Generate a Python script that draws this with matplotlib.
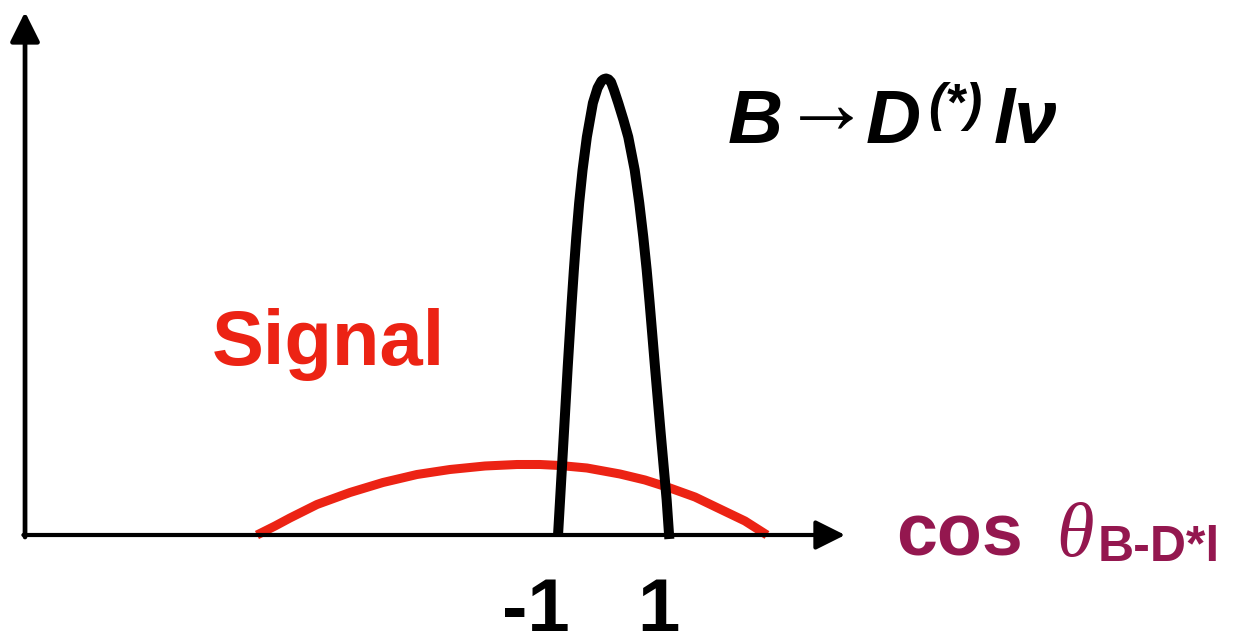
import matplotlib
matplotlib.use("Agg")
import matplotlib.pyplot as plt

# schematic shapes (x in cos theta units, y arbitrary)
bkg_x = [-1.000, -0.962, -0.892, -0.823, -0.750, -0.711, -0.667, -0.615, -0.553,
         -0.475, -0.365, -0.280, -0.210, -0.170, -0.125, -0.080, -0.036, 0.018,
         0.096, 0.191, 0.278, 0.395, 0.478, 0.551, 0.613, 0.665, 0.764, 0.867,
         0.976, 1.025]
bkg_y = [-0.01, 0.35, 1.02, 1.68, 2.33, 2.65, 2.98, 3.32, 3.65,
         3.98, 4.32, 4.47, 4.54, 4.558, 4.565, 4.556, 4.53, 4.45,
         4.32, 4.15, 3.98, 3.65, 3.32, 2.98, 2.65, 2.33, 1.68, 1.02,
         0.35, -0.04]

sig_x = [-6.473, -6.145, -5.873, -5.382, -4.782, -4.182, -3.564, -2.964, -2.327,
         -1.745, -1.327, -0.964, -0.473, 0.127, 0.582, 1.036, 1.491, 1.945,
         2.400, 2.800]
sig_y = [0.00, 0.09, 0.17, 0.305, 0.425, 0.525, 0.605, 0.655, 0.69,
         0.705, 0.705, 0.695, 0.67, 0.61, 0.55, 0.47, 0.38, 0.26,
         0.14, 0.00]

tick_vals = [-1, 1]
tick_labels = ['-1', '1']

RED = '#ec2314'
PURPLE = '#94174f'
FONT = 'Liberation Sans'

fig = plt.figure(figsize=(12.38, 6.31), dpi=100)
ax = fig.add_axes([0, 0, 1, 1])
ax.set_xlim(-11.145, 11.364)
ax.set_ylim(-0.96, 5.35)
ax.axis('off')

# axes with arrows
x0, y0 = -10.69, 0.0
ax.annotate('', xy=(4.22, 0), xytext=(x0 - 0.03, y0),
            arrowprops=dict(arrowstyle='-|>', lw=3.0, color='k', mutation_scale=45,
                            shrinkA=0, shrinkB=0))
ax.annotate('', xy=(x0, 5.23), xytext=(x0, y0 - 0.02),
            arrowprops=dict(arrowstyle='-|>', lw=3.4, color='k', mutation_scale=45,
                            shrinkA=0, shrinkB=0))

ax.plot(sig_x, sig_y, color=RED, lw=6.5, solid_capstyle='butt', solid_joinstyle='round')
ax.plot(bkg_x, bkg_y, color='k', lw=7.2, solid_capstyle='butt', solid_joinstyle='round')

for v, lab in zip(tick_vals, tick_labels):
    ax.text(v + 0.22, -0.97, lab, ha='right', va='baseline', fontsize=55,
            fontweight='bold', family=FONT)


def px(x, y):
    return x / 1238, 1 - y / 631


fig.text(*px(212, 365), 'Signal', color=RED, fontsize=56, fontweight='bold',
         family=FONT, ha='left', va='baseline')

# B -> D(*) l nu
bi = dict(fontsize=55, fontweight='bold', fontstyle='italic', family=FONT,
          ha='left', va='baseline', color='k')
fig.text(*px(728, 143), 'B', **bi)
fig.text(*px(782, 132), '→', fontsize=64, fontweight='bold', family=FONT,
         ha='left', va='baseline', color='k')
fig.text(*px(866, 143), 'D', **bi)
fig.text(*px(928, 120), '(*)', fontsize=37, fontweight='bold', fontstyle='italic',
         family=FONT, ha='left', va='baseline', color='k')
fig.text(*px(994, 143), 'lν', **bi)

# cos theta_{B-D*l}
fig.text(*px(896, 555), 'cos', color=PURPLE, fontsize=53, fontweight='bold',
         family=FONT, ha='left', va='baseline')
fig.text(*px(1056, 556), 'θ', color=PURPLE, fontsize=55, fontstyle='italic',
         family='Liberation Serif', ha='left', va='baseline')
fig.text(*px(1098, 561), 'B-D*l', color=PURPLE, fontsize=36, fontweight='bold',
         family=FONT, ha='left', va='baseline')

fig.savefig('out.png', dpi=100)
